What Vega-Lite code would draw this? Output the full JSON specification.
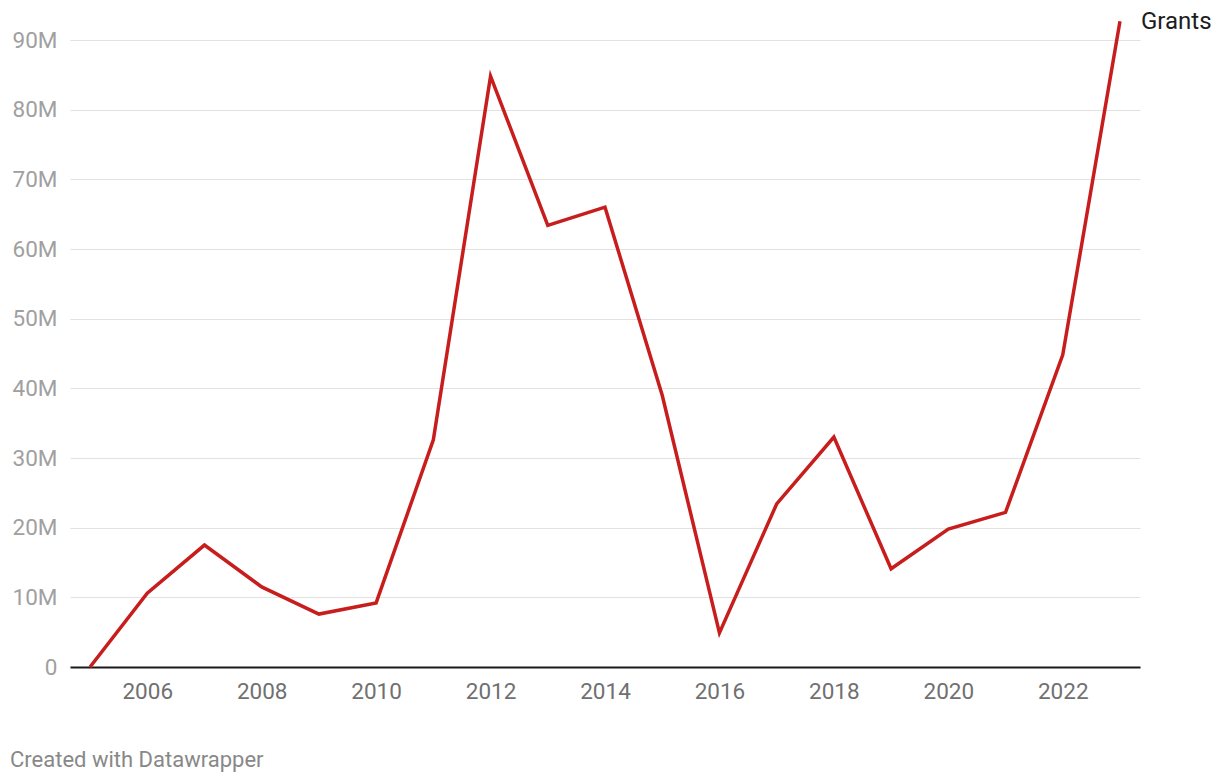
{
  "$schema": "https://vega.github.io/schema/vega-lite/v6.json",
  "width": 1070,
  "height": 627,
  "padding": {"left": 70, "top": 40, "right": 80, "bottom": 117},
  "autosize": "none",
  "background": "white",
  "config": {"view": {"stroke": null}, "font": "Roboto"},
  "data": {"values": [
    {"year": 2005, "value": 0},
    {"year": 2006, "value": 10.6},
    {"year": 2007, "value": 17.5},
    {"year": 2008, "value": 11.5},
    {"year": 2009, "value": 7.6},
    {"year": 2010, "value": 9.2},
    {"year": 2011, "value": 32.6},
    {"year": 2012, "value": 84.8},
    {"year": 2013, "value": 63.4},
    {"year": 2014, "value": 66.0},
    {"year": 2015, "value": 39.0},
    {"year": 2016, "value": 4.9},
    {"year": 2017, "value": 23.4},
    {"year": 2018, "value": 33.0},
    {"year": 2019, "value": 14.1},
    {"year": 2020, "value": 19.8},
    {"year": 2021, "value": 22.2},
    {"year": 2022, "value": 44.8},
    {"year": 2023, "value": 92.7, "label": "Grants"}
  ]},
  "title": {
    "text": "Created with Datawrapper",
    "orient": "bottom",
    "anchor": "start",
    "frame": "group",
    "dx": -60,
    "offset": 47,
    "fontSize": 22,
    "fontWeight": "normal",
    "color": "#888888",
    "font": "Roboto"
  },
  "encoding": {
    "x": {
      "field": "year", "type": "quantitative",
      "scale": {"domain": [2004.65, 2023.35], "nice": false, "zero": false},
      "axis": {
        "title": null, "values": [2006, 2008, 2010, 2012, 2014, 2016, 2018, 2020, 2022],
        "format": "d", "grid": false, "ticks": false,
        "domainColor": "#1a1a1a", "domainWidth": 2,
        "labelFont": "Roboto", "labelFontSize": 22.5, "labelColor": "#707070",
        "labelPadding": 13
      }
    },
    "y": {
      "field": "value", "type": "quantitative",
      "scale": {"domain": [0, 90], "nice": false},
      "axis": {
        "title": null, "values": [0, 10, 20, 30, 40, 50, 60, 70, 80, 90],
        "labelExpr": "datum.value == 0 ? '0' : datum.value + 'M'",
        "domain": false, "ticks": false, "grid": true,
        "gridColor": "#e2e2e2", "gridWidth": 1.2,
        "labelFont": "Roboto", "labelFontSize": 22.5, "labelColor": "#a0a0a0",
        "labelPadding": 13
      }
    }
  },
  "layer": [
    {
      "mark": {"type": "line", "color": "#c71e1d", "strokeWidth": 3.5, "clip": false, "strokeJoin": "miter"}
    },
    {
      "transform": [{"filter": "datum.label != null"}],
      "mark": {"type": "text", "align": "left", "baseline": "middle", "dx": 21, "dy": 1, "fontSize": 24, "color": "#1d1d1d", "font": "Roboto"},
      "encoding": {"text": {"field": "label"}}
    }
  ]
}
